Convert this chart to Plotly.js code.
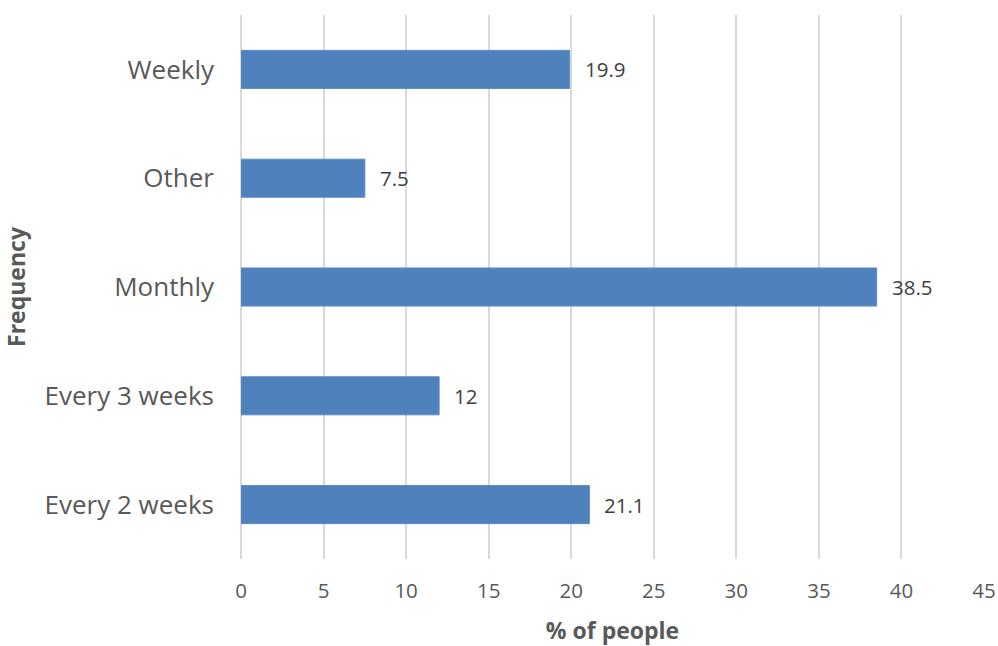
<!DOCTYPE html>
<html>
<head>
<meta charset="utf-8">
<script src="https://cdn.plot.ly/plotly-3.0.1.min.js"></script>
<style>
  html, body { margin: 0; padding: 0; background: #fff; }
  #chart { width: 998px; height: 646px; }
</style>
</head>
<body>
<div id="chart"></div>
<script>
// Frequency categories, listed bottom to top
const categories = ['Every 2 weeks', 'Every 3 weeks', 'Monthly', 'Other', 'Weekly'];
// Share of people in each category (%)
const percentages = [21.1, 12, 38.5, 7.5, 19.9];
const xTicks = [0, 5, 10, 15, 20, 25, 30, 35, 40, 45];

const FONT = 'Open Sans, Lato, sans-serif';
const TEXT = '#595959';

const bars = {
  type: 'bar',
  orientation: 'h',
  x: percentages,
  y: categories,
  marker: { color: '#4F81BD', line: { color: '#5B8CC8', width: 1 } },
  hoverinfo: 'x+y'
};

const valueLabels = categories.map((c, i) => ({
  x: percentages[i],
  y: c,
  xref: 'x',
  yref: 'y',
  text: String(percentages[i]),
  showarrow: false,
  xanchor: 'left',
  xshift: 13,
  font: { family: FONT, size: 20.5, color: '#404040' }
}));

const layout = {
  width: 998,
  height: 646,
  margin: { l: 241, r: 14, t: 15, b: 87 },
  paper_bgcolor: '#ffffff',
  plot_bgcolor: '#ffffff',
  bargap: 0.65,
  showlegend: false,
  font: { family: FONT, color: TEXT },
  xaxis: {
    range: [0, 45],
    tickvals: xTicks,
    ticktext: xTicks.map(String),
    showgrid: true,
    gridcolor: '#D9D9D9',
    gridwidth: 2,
    zeroline: true,
    zerolinecolor: '#D9D9D9',
    zerolinewidth: 2,
    showline: false,
    ticks: '',
    ticklabelstandoff: 17,
    tickfont: { family: FONT, size: 20.5, color: TEXT },
    title: {
      text: '% of people',
      font: { family: FONT, size: 23, color: TEXT, weight: 'bold' },
      standoff: 21
    },
    fixedrange: true
  },
  yaxis: {
    type: 'category',
    categoryorder: 'array',
    categoryarray: categories,
    showgrid: false,
    zeroline: false,
    showline: false,
    ticks: '',
    ticklabelstandoff: 26,
    tickfont: { family: FONT, size: 26, color: TEXT },
    title: {
      text: 'Frequency',
      font: { family: FONT, size: 23, color: TEXT, weight: 'bold' },
      standoff: 14
    },
    fixedrange: true
  },
  annotations: valueLabels
};

Plotly.newPlot('chart', [bars], layout, { displayModeBar: false, staticPlot: true });
</script>
</body>
</html>
